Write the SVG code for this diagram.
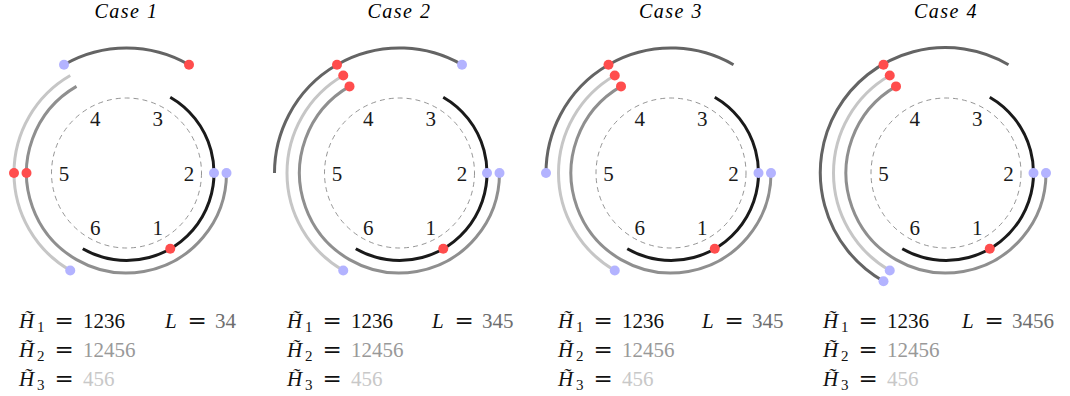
<svg xmlns="http://www.w3.org/2000/svg" width="1070" height="396" viewBox="0 0 1070 396">
<style>
.bg{fill:#fff}
.guide{fill:none;stroke:#7a7a7a;stroke-width:0.8;stroke-dasharray:5 4}
.a{fill:none;stroke-width:3}
.k{stroke:#1a1a1a}
.m{stroke:#8f8f8f}
.l{stroke:#c6c6c6}
.d{stroke:#646464}
.r{fill:#ff4d4d}
.b{fill:#b3b3ff}
text{font-family:'Liberation Serif','Times New Roman','DejaVu Serif',serif}
.title{font-style:italic;font-size:20px;letter-spacing:1.5px;fill:#000;text-anchor:middle}
.lab{font-size:21px;fill:#1a1a1a;text-anchor:middle}
.mt{font-size:21px;fill:#111}
.it{font-style:italic}
.sub{font-size:15px}
.eq{font-family:'DejaVu Serif',serif;font-size:23px}
.vm{fill:#999}
.vl{fill:#c8c8c8}
.vd{fill:#6e6e6e}
</style>
<rect class="bg" x="0" y="0" width="1070" height="396"/>

<g id="case1">
<text class="title" x="126.5" y="18">Case 1</text>
<circle class="guide" cx="126.5" cy="173" r="75"/>
<text class="lab" x="157.75" y="234.6">1</text>
<text class="lab" x="189" y="180.5">2</text>
<text class="lab" x="157.75" y="126.4">3</text>
<text class="lab" x="95.25" y="126.4">4</text>
<text class="lab" x="64" y="180.5">5</text>
<text class="lab" x="95.25" y="234.6">6</text>
<path class="a k" d="M82.75 248.78 A87.5 87.5 0 1 0 170.25 97.22"/>
<path class="a m" d="M226.5 173 A100 100 0 1 1 76.5 86.4"/>
<path class="a l" d="M70.25 75.57 A112.5 112.5 0 0 0 70.25 270.43"/>
<path class="a d" d="M64 64.75 A125 125 0 0 1 189 64.75"/>
<circle class="r" cx="170.25" cy="248.78" r="5"/>
<circle class="b" cx="214" cy="173" r="5"/>
<circle class="b" cx="226.5" cy="173" r="5"/>
<circle class="r" cx="26.5" cy="173" r="5"/>
<circle class="r" cx="14" cy="173" r="5"/>
<circle class="b" cx="70.25" cy="270.43" r="5"/>
<circle class="b" cx="64" cy="64.75" r="5"/>
<circle class="r" cx="189" cy="64.75" r="5"/>
<text class="mt" x="19" y="328"><tspan class="it">H̃</tspan><tspan class="sub" x="37" dy="4">1</tspan><tspan class="eq" x="54.5" dy="-4">=</tspan><tspan x="83">1236</tspan></text>
<text class="mt" x="19" y="357"><tspan class="it">H̃</tspan><tspan class="sub" x="37" dy="4">2</tspan><tspan class="eq" x="54.5" dy="-4">=</tspan><tspan class="vm" x="83">12456</tspan></text>
<text class="mt" x="19" y="386"><tspan class="it">H̃</tspan><tspan class="sub" x="37" dy="4">3</tspan><tspan class="eq" x="54.5" dy="-4">=</tspan><tspan class="vl" x="83">456</tspan></text>
<text class="mt" x="165" y="328"><tspan class="it">L</tspan><tspan class="eq" x="187.5">=</tspan><tspan class="vd" x="215">34</tspan></text>
</g>

<g id="case2">
<text class="title" x="399.5" y="18">Case 2</text>
<circle class="guide" cx="399.5" cy="173" r="75"/>
<text class="lab" x="430.75" y="234.6">1</text>
<text class="lab" x="462" y="180.5">2</text>
<text class="lab" x="430.75" y="126.4">3</text>
<text class="lab" x="368.25" y="126.4">4</text>
<text class="lab" x="337" y="180.5">5</text>
<text class="lab" x="368.25" y="234.6">6</text>
<path class="a k" d="M355.75 248.78 A87.5 87.5 0 1 0 443.25 97.22"/>
<path class="a m" d="M499.5 173 A100 100 0 1 1 349.5 86.4"/>
<path class="a l" d="M343.25 270.43 A112.5 112.5 0 0 1 343.25 75.57"/>
<path class="a d" d="M274.5 173 A125 125 0 0 1 462 64.75"/>
<circle class="r" cx="443.25" cy="248.78" r="5"/>
<circle class="b" cx="487" cy="173" r="5"/>
<circle class="b" cx="499.5" cy="173" r="5"/>
<circle class="r" cx="349.5" cy="86.4" r="5"/>
<circle class="b" cx="343.25" cy="270.43" r="5"/>
<circle class="r" cx="343.25" cy="75.57" r="5"/>
<circle class="r" cx="337" cy="64.75" r="5"/>
<circle class="b" cx="462" cy="64.75" r="5"/>
<text class="mt" x="287" y="328"><tspan class="it">H̃</tspan><tspan class="sub" x="305" dy="4">1</tspan><tspan class="eq" x="322.5" dy="-4">=</tspan><tspan x="351">1236</tspan></text>
<text class="mt" x="287" y="357"><tspan class="it">H̃</tspan><tspan class="sub" x="305" dy="4">2</tspan><tspan class="eq" x="322.5" dy="-4">=</tspan><tspan class="vm" x="351">12456</tspan></text>
<text class="mt" x="287" y="386"><tspan class="it">H̃</tspan><tspan class="sub" x="305" dy="4">3</tspan><tspan class="eq" x="322.5" dy="-4">=</tspan><tspan class="vl" x="351">456</tspan></text>
<text class="mt" x="432" y="328"><tspan class="it">L</tspan><tspan class="eq" x="454.5">=</tspan><tspan class="vd" x="482">345</tspan></text>
</g>

<g id="case3">
<text class="title" x="671" y="18">Case 3</text>
<circle class="guide" cx="671" cy="173" r="75"/>
<text class="lab" x="702.25" y="234.6">1</text>
<text class="lab" x="733.5" y="180.5">2</text>
<text class="lab" x="702.25" y="126.4">3</text>
<text class="lab" x="639.75" y="126.4">4</text>
<text class="lab" x="608.5" y="180.5">5</text>
<text class="lab" x="639.75" y="234.6">6</text>
<path class="a k" d="M627.25 248.78 A87.5 87.5 0 1 0 714.75 97.22"/>
<path class="a m" d="M771 173 A100 100 0 1 1 621 86.4"/>
<path class="a l" d="M614.75 270.43 A112.5 112.5 0 0 1 614.75 75.57"/>
<path class="a d" d="M546 173 A125 125 0 0 1 733.5 64.75"/>
<circle class="r" cx="714.75" cy="248.78" r="5"/>
<circle class="b" cx="758.5" cy="173" r="5"/>
<circle class="b" cx="771" cy="173" r="5"/>
<circle class="r" cx="621" cy="86.4" r="5"/>
<circle class="b" cx="614.75" cy="270.43" r="5"/>
<circle class="r" cx="614.75" cy="75.57" r="5"/>
<circle class="b" cx="546" cy="173" r="5"/>
<circle class="r" cx="608.5" cy="64.75" r="5"/>
<text class="mt" x="558" y="328"><tspan class="it">H̃</tspan><tspan class="sub" x="576" dy="4">1</tspan><tspan class="eq" x="593.5" dy="-4">=</tspan><tspan x="622">1236</tspan></text>
<text class="mt" x="558" y="357"><tspan class="it">H̃</tspan><tspan class="sub" x="576" dy="4">2</tspan><tspan class="eq" x="593.5" dy="-4">=</tspan><tspan class="vm" x="622">12456</tspan></text>
<text class="mt" x="558" y="386"><tspan class="it">H̃</tspan><tspan class="sub" x="576" dy="4">3</tspan><tspan class="eq" x="593.5" dy="-4">=</tspan><tspan class="vl" x="622">456</tspan></text>
<text class="mt" x="702" y="328"><tspan class="it">L</tspan><tspan class="eq" x="724.5">=</tspan><tspan class="vd" x="752">345</tspan></text>
</g>

<g id="case4">
<text class="title" x="946" y="18">Case 4</text>
<circle class="guide" cx="946" cy="173" r="75"/>
<text class="lab" x="977.25" y="234.6">1</text>
<text class="lab" x="1008.5" y="180.5">2</text>
<text class="lab" x="977.25" y="126.4">3</text>
<text class="lab" x="914.75" y="126.4">4</text>
<text class="lab" x="883.5" y="180.5">5</text>
<text class="lab" x="914.75" y="234.6">6</text>
<path class="a k" d="M902.25 248.78 A87.5 87.5 0 1 0 989.75 97.22"/>
<path class="a m" d="M1046 173 A100 100 0 1 1 896 86.4"/>
<path class="a l" d="M889.75 270.43 A112.5 112.5 0 0 1 889.75 75.57"/>
<path class="a d" d="M883.5 281.25 A125 125 0 1 1 1008.5 64.75"/>
<circle class="r" cx="989.75" cy="248.78" r="5"/>
<circle class="b" cx="1033.5" cy="173" r="5"/>
<circle class="b" cx="1046" cy="173" r="5"/>
<circle class="r" cx="896" cy="86.4" r="5"/>
<circle class="b" cx="889.75" cy="270.43" r="5"/>
<circle class="r" cx="889.75" cy="75.57" r="5"/>
<circle class="b" cx="883.5" cy="281.25" r="5"/>
<circle class="r" cx="883.5" cy="64.75" r="5"/>
<text class="mt" x="823" y="328"><tspan class="it">H̃</tspan><tspan class="sub" x="841" dy="4">1</tspan><tspan class="eq" x="858.5" dy="-4">=</tspan><tspan x="887">1236</tspan></text>
<text class="mt" x="823" y="357"><tspan class="it">H̃</tspan><tspan class="sub" x="841" dy="4">2</tspan><tspan class="eq" x="858.5" dy="-4">=</tspan><tspan class="vm" x="887">12456</tspan></text>
<text class="mt" x="823" y="386"><tspan class="it">H̃</tspan><tspan class="sub" x="841" dy="4">3</tspan><tspan class="eq" x="858.5" dy="-4">=</tspan><tspan class="vl" x="887">456</tspan></text>
<text class="mt" x="962" y="328"><tspan class="it">L</tspan><tspan class="eq" x="984.5">=</tspan><tspan class="vd" x="1012">3456</tspan></text>
</g>
</svg>
